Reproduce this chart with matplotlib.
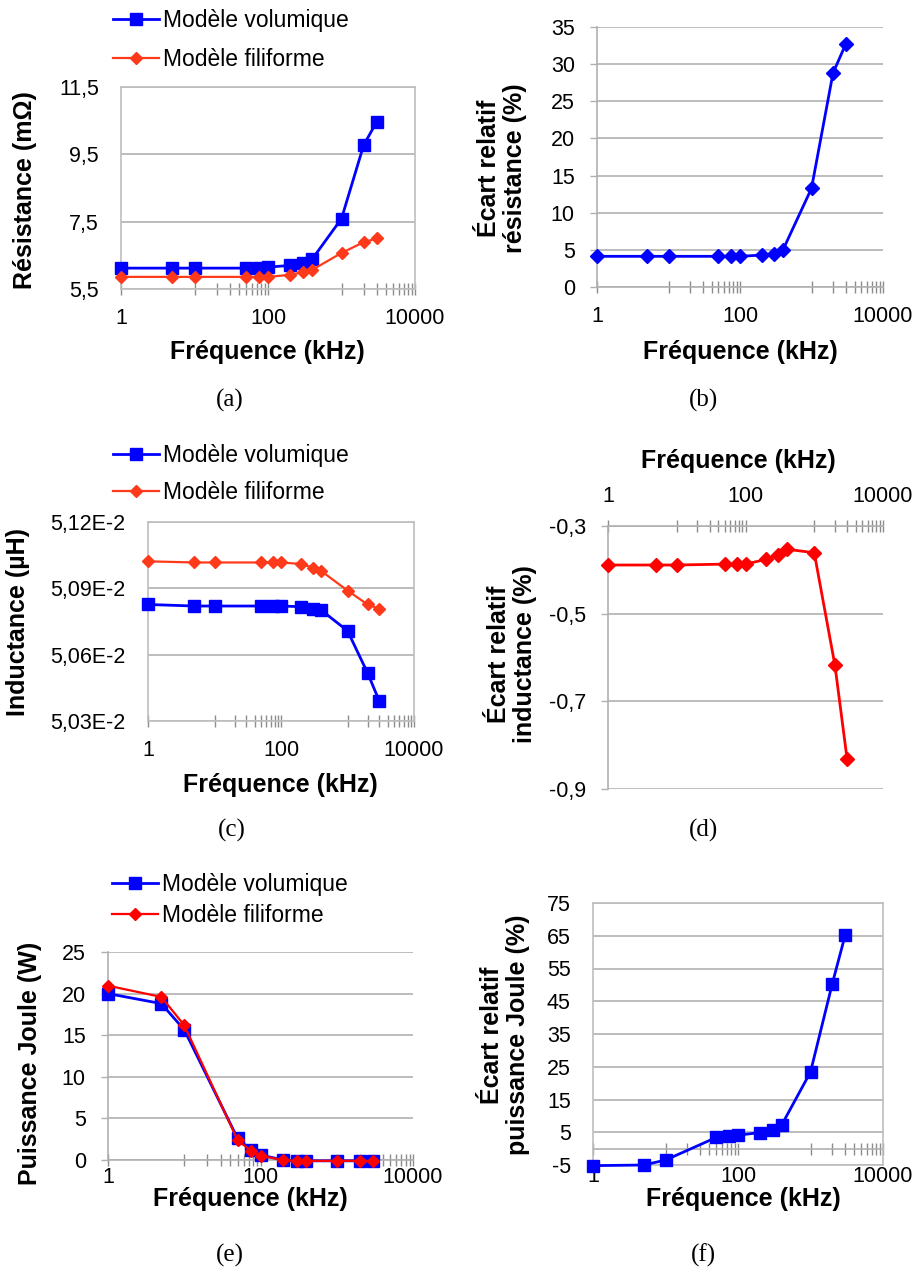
import matplotlib
matplotlib.use("Agg")
import matplotlib.pyplot as plt
from matplotlib.ticker import FixedLocator, FixedFormatter, NullFormatter

# ---------------- data ----------------
freq = [1, 5, 10, 50, 75, 100, 200, 300, 400, 1000, 2000, 3000]

res_vol = [6.12, 6.12, 6.12, 6.12, 6.12, 6.15, 6.20, 6.27, 6.39, 7.59, 9.77, 10.46]
res_fil = [5.86, 5.86, 5.86, 5.86, 5.86, 5.86, 5.92, 6.00, 6.07, 6.57, 6.89, 7.00]
ecart_res = [4.13, 4.13, 4.13, 4.13, 4.13, 4.13, 4.30, 4.49, 5.02, 13.28, 28.8, 32.66]

ind_vol = [5.0827e-2, 5.0820e-2, 5.0820e-2, 5.0820e-2, 5.0820e-2, 5.0820e-2,
           5.0817e-2, 5.0808e-2, 5.0802e-2, 5.0708e-2, 5.0518e-2, 5.0391e-2]
ind_fil = [5.1022e-2, 5.1017e-2, 5.1017e-2, 5.1017e-2, 5.1017e-2, 5.1017e-2,
           5.1010e-2, 5.0994e-2, 5.0979e-2, 5.0890e-2, 5.0827e-2, 5.0808e-2]
ecart_ind = [-0.389, -0.389, -0.389, -0.387, -0.387, -0.387,
             -0.376, -0.366, -0.353, -0.361, -0.618, -0.831]

pj_vol = [20.0, 18.8, 15.65, 2.6, 1.2, 0.6, 0.0, -0.1, -0.1, -0.1, -0.1, -0.1]
pj_fil = [20.95, 19.6, 16.2, 2.4, 1.1, 0.5, 0.0, -0.1, -0.1, -0.1, -0.1, -0.1]
ecart_pj = [-5.2, -5.0, -3.5, 3.4, 3.8, 4.1, 4.9, 5.7, 7.2, 23.4, 50.4, 65.1]

x_major = [1, 100, 10000]
x_major_labels = ["1", "100", "10000"]
x_minor = [10, 20, 30, 40, 50, 60, 70, 80, 90, 1000, 2000, 3000, 4000, 5000, 6000, 7000, 8000, 9000]

res_ticks = [5.5, 7.5, 9.5, 11.5]
res_labels = ["5,5", "7,5", "9,5", "11,5"]
ecart_res_ticks = [0, 5, 10, 15, 20, 25, 30, 35]
ecart_res_labels = ["0", "5", "10", "15", "20", "25", "30", "35"]
ind_ticks = [5.03e-2, 5.06e-2, 5.09e-2, 5.12e-2]
ind_labels = ["5,03E-2", "5,06E-2", "5,09E-2", "5,12E-2"]
ecart_ind_ticks = [-0.9, -0.7, -0.5, -0.3]
ecart_ind_labels = ["-0,9", "-0,7", "-0,5", "-0,3"]
pj_ticks = [0, 5, 10, 15, 20, 25]
pj_labels = ["0", "5", "10", "15", "20", "25"]
ecart_pj_ticks = [-5, 5, 15, 25, 35, 45, 55, 65, 75]
ecart_pj_labels = ["-5", "5", "15", "25", "35", "45", "55", "65", "75"]

lab_vol = "Modèle volumique"
lab_fil = "Modèle filiforme"
xlab = "Fréquence (kHz)"

# ---------------- style ----------------
W, H = 919, 1273
FONT = "Liberation Sans"
plt.rcParams["font.family"] = [FONT, "DejaVu Sans"]
TICK_FS = 15.5
LEG_FS = 16.5
LAB_FS = 18
CAP_FS = 18
BLUE = "#0000FF"
RED = "#FF0000"
ORANGE = "#FF3A1A"
GRID = "#B0B0B0"
FRAME = "#BEBEBE"
TICKC = "#8C8C8C"

fig = plt.figure(figsize=(W / 100, H / 100), dpi=100)


def fx(x):
    return x / W


def fy(y):
    return 1 - y / H


def make_ax(x0, y0, x1, y1):
    return fig.add_axes([fx(x0), fy(y1), (x1 - x0) / W, (y1 - y0) / H])


def setup_x(ax, labels=True, pad=9):
    ax.set_xscale("log")
    ax.set_xlim(1, 10000)
    ax.xaxis.set_major_locator(FixedLocator(x_major))
    ax.xaxis.set_major_formatter(FixedFormatter(x_major_labels if labels else ["", "", ""]))
    ax.xaxis.set_minor_locator(FixedLocator(x_minor))
    ax.xaxis.set_minor_formatter(NullFormatter())
    ax.tick_params(axis="x", which="both", direction="inout", length=9, width=1,
                   color=TICKC, labelsize=TICK_FS, pad=pad)


def setup_y(ax, ticks, labels, lo, hi, outward=0):
    ax.set_ylim(lo, hi)
    ax.set_yticks(ticks)
    ax.set_yticklabels(labels)
    ax.tick_params(axis="y", which="both", direction="out", length=outward, width=1,
                   color=GRID, labelsize=TICK_FS, pad=16 - outward)
    ax.yaxis.grid(True, color=GRID, linewidth=1.2)
    ax.set_axisbelow(True)


def frame(ax, sides=("left", "right", "top", "bottom")):
    for s in ("left", "right", "top", "bottom"):
        if s in sides:
            ax.spines[s].set_visible(True)
            ax.spines[s].set_color(FRAME)
            ax.spines[s].set_linewidth(1.2)
        else:
            ax.spines[s].set_visible(False)


def ylabel(x, y, text):
    fig.text(fx(x), fy(y), text, rotation=90, ha="center", va="center",
             fontsize=LAB_FS, fontweight="bold", multialignment="center", linespacing=1.15)


def xlabel(x, y):
    fig.text(fx(x), fy(y), xlab, ha="center", va="center", fontsize=LAB_FS, fontweight="bold")


def caption(x, y, text):
    fig.text(fx(x), fy(y), text, ha="center", va="center", fontsize=CAP_FS,
             family=["Liberation Serif", "DejaVu Serif"])


def legend(ax, x, y, spacing):
    ax.legend(loc="upper left", bbox_to_anchor=(fx(x), fy(y)), bbox_transform=fig.transFigure,
              frameon=False, fontsize=LEG_FS, handlelength=2.0, handletextpad=0.2,
              borderpad=0, borderaxespad=0, labelspacing=spacing)


vol_kw = dict(color=BLUE, marker="s", markersize=8, linewidth=2, clip_on=False, zorder=3)
fil_kw = dict(marker="D", markersize=6, linewidth=1.6, clip_on=False, zorder=4)

# ---------------- (a) Résistance ----------------
ax = make_ax(121, 87, 415, 289)
ax.plot(freq, res_vol, label=lab_vol, **vol_kw)
ax.plot(freq, res_fil, label=lab_fil, color=ORANGE, **fil_kw)
setup_x(ax)
setup_y(ax, res_ticks, res_labels, 5.5, 11.5)
frame(ax)
legend(ax, 113, 9, 0.68)
ylabel(25, 190, "Résistance (mΩ)")
xlabel(267, 352)
caption(230, 400, "(a)")

# ---------------- (b) Écart résistance ----------------
ax = make_ax(597, 27, 883, 287)
ax.plot(freq, ecart_res, color=BLUE, marker="D", markersize=7.5, linewidth=2, clip_on=False, zorder=3)
setup_x(ax)
setup_y(ax, ecart_res_ticks, ecart_res_labels, 0, 35, outward=5)
frame(ax, ("left", "bottom"))
ax.spines["bottom"].set_color(GRID)
ax.spines["left"].set_color(GRID)
ylabel(502, 168, "Écart relatif\nrésistance (%)")
xlabel(740, 352)
caption(703, 400, "(b)")

# ---------------- (c) Inductance ----------------
ax = make_ax(148, 522, 414, 721)
ax.plot(freq, ind_vol, label=lab_vol, **vol_kw)
ax.plot(freq, ind_fil, label=lab_fil, color=ORANGE, **fil_kw)
setup_x(ax)
setup_y(ax, ind_ticks, ind_labels, 5.03e-2, 5.12e-2)
frame(ax)
legend(ax, 113, 444, 0.6)
ylabel(18, 622, "Inductance (µH)")
xlabel(280, 785)
caption(232, 830, "(c)")

# ---------------- (d) Écart inductance ----------------
ax = make_ax(608, 526, 883, 789)
ax.plot(freq, ecart_ind, color=RED, marker="D", markersize=7, linewidth=2, clip_on=False, zorder=3)
setup_x(ax)
ax.xaxis.tick_top()
setup_y(ax, ecart_ind_ticks, ecart_ind_labels, -0.9, -0.3, outward=5)
frame(ax, ("left", "top"))
ax.spines["top"].set_color(GRID)
ax.spines["left"].set_color(GRID)
ylabel(512, 654, "Écart relatif\ninductance (%)")
xlabel(738, 461)
caption(703, 830, "(d)")

# ---------------- (e) Puissance Joule ----------------
ax = make_ax(108, 952, 413, 1160)
ax.plot(freq, pj_vol, label=lab_vol, **vol_kw)
ax.plot(freq, pj_fil, label=lab_fil, color=RED, **fil_kw)
setup_x(ax, pad=0.5)
setup_y(ax, pj_ticks, pj_labels, 0, 25, outward=5)
frame(ax, ("left", "bottom"))
ax.spines["bottom"].set_color(GRID)
ax.spines["left"].set_color(GRID)
legend(ax, 112, 873, 0.35)
ylabel(30, 1063, "Puissance Joule (W)")
xlabel(250, 1199)
caption(230, 1255, "(e)")

# ---------------- (f) Écart puissance Joule ----------------
ax = make_ax(593, 903, 883, 1165)
ax.plot(freq, ecart_pj, color=BLUE, marker="s", markersize=8, linewidth=2, clip_on=False, zorder=3)
setup_x(ax, pad=1)
ax.tick_params(axis="x", which="both", length=0)
setup_y(ax, ecart_pj_ticks, ecart_pj_labels, -5, 75)
frame(ax)
sec = ax.secondary_xaxis(5 / 80)
sec.set_xticks(x_major)
sec.set_xticklabels(["", "", ""])
sec.xaxis.set_minor_locator(FixedLocator(x_minor))
sec.xaxis.set_minor_formatter(NullFormatter())
sec.tick_params(axis="x", which="both", direction="inout", length=9, width=1, color=TICKC)
sec.spines["bottom"].set_color(GRID)
sec.spines["bottom"].set_linewidth(1.2)
ylabel(505, 1035, "Écart relatif\npuissance Joule (%)")
xlabel(743, 1199)
caption(703, 1255, "(f)")

fig.savefig("out.png", dpi=100)
